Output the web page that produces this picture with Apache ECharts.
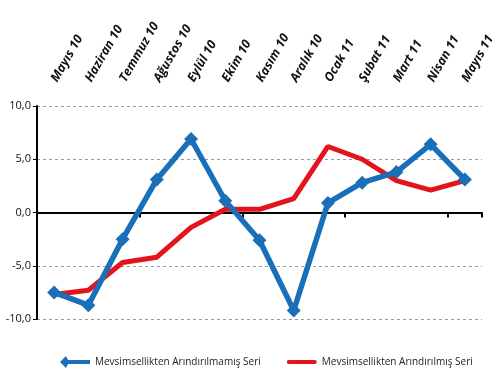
<!DOCTYPE html>
<html><head><meta charset="utf-8">
<script src="https://cdn.jsdelivr.net/npm/echarts@6/dist/echarts.min.js"></script>
<style>html,body{margin:0;padding:0;background:#fff}#c{width:500px;height:384px}</style>
</head><body><div id="c"></div>
<script>
var categories = ["Mayıs 10","Haziran 10","Temmuz 10","Ağustos 10","Eylül 10","Ekim 10","Kasım 10","Aralık 10","Ocak 11","Şubat 11","Mart 11","Nisan 11","Mayıs 11"];
var unadjusted = [-7.5,-8.7,-2.5,3.1,6.9,1.1,-2.6,-9.2,0.9,2.8,3.8,6.4,3.1];
var adjusted = [-7.7,-7.3,-4.7,-4.2,-1.4,0.3,0.3,1.3,6.2,5.0,3.0,2.1,3.0];
var seriesNames = ["Mevsimsellikten Arındırılmamış Seri","Mevsimsellikten Arındırılmış Seri"];
var yTicks = {min:-10, max:10, step:5};

var chart = echarts.init(document.getElementById('c'), null, {renderer:'canvas'});
var font = '"Open Sans", "Liberation Sans", sans-serif';
chart.setOption({
  animation:false,
  backgroundColor:'#fff',
  grid:{left:37, right:18, top:106, bottom:65},
  legend:{
    bottom:11, left:55, itemGap:26, itemWidth:30, itemHeight:12,
    textStyle:{fontFamily:font, fontSize:10, color:'#222'},
    data:[
      {name:seriesNames[0], icon:'path://M0,6 L6,0 L8,4 L30,4 L30,8 L8,8 L6,12 Z', itemStyle:{color:'#1a6fb9'}},
      {name:seriesNames[1], icon:'path://M2,4 L28,4 Q30,4 30,6 Q30,8 28,8 L2,8 Q0,8 0,6 Q0,4 2,4 Z', itemStyle:{color:'#e3141c'}}
    ]
  },
  xAxis:[{
    type:'category', data:categories, boundaryGap:true, position:'bottom',
    axisLine:{onZero:true, lineStyle:{color:'#000', width:2}},
    axisTick:{show:true, inside:false, length:5, lineStyle:{color:'#000', width:2}},
    axisLabel:{show:false}, splitLine:{show:false}
  },{
    type:'category', data:categories, boundaryGap:true, position:'top',
    axisLine:{show:false}, axisTick:{show:false},
    axisLabel:{rotate:-60, margin:25, interval:0, align:'left', verticalAlign:'middle',
      fontFamily:font, fontSize:12.5, fontStyle:'italic', fontWeight:'bold', color:'#111'},
    splitLine:{show:false}
  }],
  yAxis:{
    type:'value', min:yTicks.min, max:yTicks.max, interval:yTicks.step,
    axisLine:{show:true, onZero:false, lineStyle:{color:'#000', width:2}},
    axisTick:{show:true, length:4, lineStyle:{color:'#000', width:1}},
    axisLabel:{margin:6, fontFamily:font, fontSize:11, color:'#111',
      formatter:function(v){return v.toFixed(1).replace('.',',');}},
    splitLine:{show:true, lineStyle:{color:'#999', type:[3,3], width:1}}
  },
  series:[{
    name:seriesNames[0], type:'line', data:unadjusted, xAxisIndex:0,
    symbol:'diamond', symbolSize:14,
    lineStyle:{color:'#1a6fb9', width:5.5},
    itemStyle:{color:'#1a6fb9'}, z:3
  },{
    name:seriesNames[1], type:'line', data:adjusted, xAxisIndex:0,
    symbol:'none',
    lineStyle:{color:'#e3141c', width:5},
    itemStyle:{color:'#e3141c'}, z:2
  }]
});
</script></body></html>
